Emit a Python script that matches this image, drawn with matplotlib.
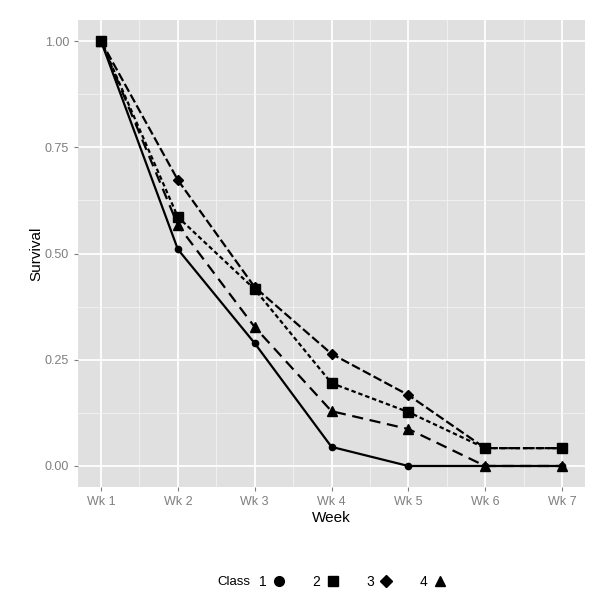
import matplotlib
matplotlib.use("Agg")
import matplotlib.pyplot as plt
from matplotlib.lines import Line2D
import numpy as np

weeks = ["Wk 1", "Wk 2", "Wk 3", "Wk 4", "Wk 5", "Wk 6", "Wk 7"]
classes = ["1", "2", "3", "4"]
class1 = [1.0, 0.51, 0.289, 0.045, 0.0, 0.0, 0.0]
class2 = [1.0, 0.586, 0.416, 0.195, 0.127, 0.042, 0.042]
class3 = [1.0, 0.673, 0.421, 0.264, 0.167, 0.042, 0.042]
class4 = [1.0, 0.567, 0.327, 0.129, 0.087, 0.0, 0.0]
series = [class1, class2, class3, class4]

markers = ["o", "s", "D", "^"]
msizes = [4.5, 6.5, 5.5, 7.5]
dashes = [None, (2, 1.3), (4, 1.5), (5, 3)]

plt.rcParams['font.family'] = ['Liberation Sans', 'DejaVu Sans']
fig = plt.figure(figsize=(6, 6.03), dpi=100)
ax = fig.add_axes([0.13, 0.192, 0.845, 0.775])
ax.set_facecolor("#e0e0e0")

x = np.arange(len(weeks))
for s, m, ms, d in zip(series, markers, msizes, dashes):
    ln, = ax.plot(x, s, color="black", lw=1.6, marker=m, markersize=ms, zorder=3)
    if d is not None:
        ln.set_dashes(d)

ax.set_xlim(-0.3, 6.3)
ax.set_ylim(-0.05, 1.05)
ax.set_xticks(x)
ax.set_xticklabels(weeks)
ax.set_yticks([0, 0.25, 0.5, 0.75, 1.0])
ax.set_yticklabels(["0.00", "0.25", "0.50", "0.75", "1.00"])
ax.set_xticks(x[:-1] + 0.5, minor=True)
ax.set_yticks([0.125, 0.375, 0.625, 0.875], minor=True)
ax.grid(which="major", color="white", lw=1.3)
ax.grid(which="minor", color="#f2f2f2", lw=0.6)
ax.set_axisbelow(True)
for sp in ax.spines.values():
    sp.set_visible(False)
ax.tick_params(which="major", colors="#7f7f7f", labelsize=9, length=3, width=0.8)
ax.tick_params(which="minor", length=0)
ax.set_xlabel("Week", fontsize=11, labelpad=2)
ax.set_ylabel("Survival", fontsize=11, labelpad=1)

handles = []
for m, ms in zip(markers, [7, 7.5, 6, 7]):
    handles.append(Line2D([], [], linestyle="none", marker=m, color="black", markersize=ms))
fig.text(0.363, 0.035, "Class", fontsize=9.5, ha="left", va="center")
fig.legend(handles, classes, loc="center", bbox_to_anchor=(0.588, 0.035), ncol=4,
           frameon=False, markerfirst=False, handlelength=1.0, handletextpad=0.4,
           columnspacing=1.9, fontsize=10)

fig.savefig("out.png", dpi=100)
